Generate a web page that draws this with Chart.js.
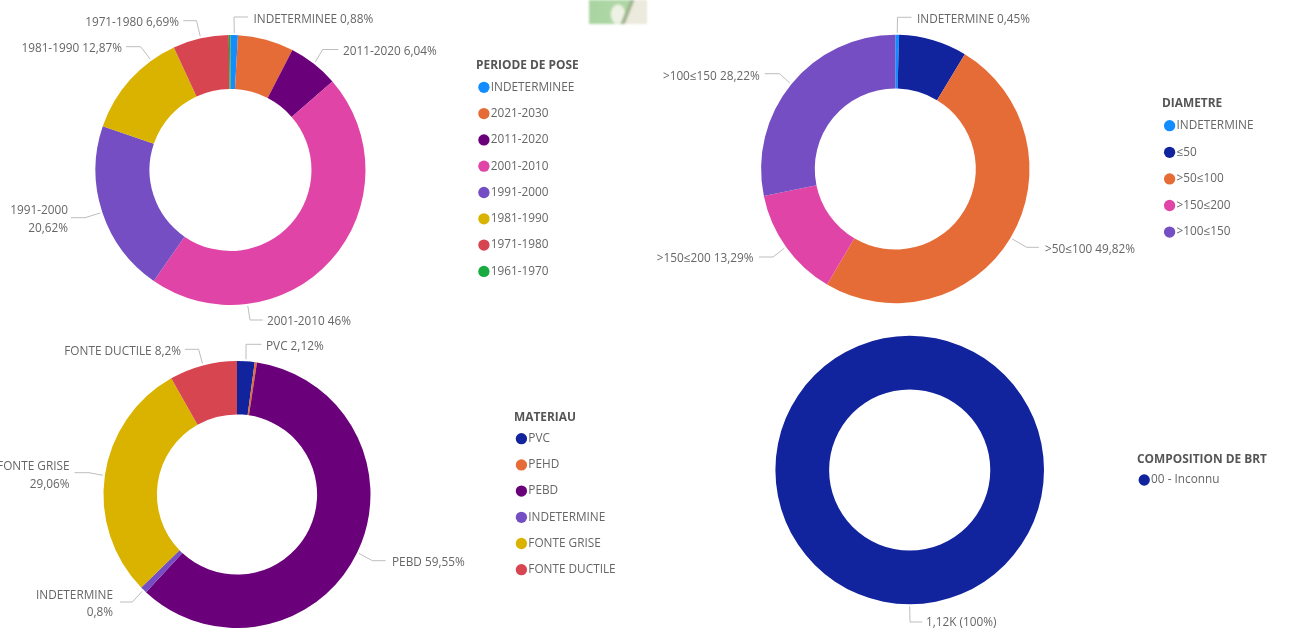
<!DOCTYPE html>
<html><head><meta charset="utf-8">
<script src="https://cdn.jsdelivr.net/npm/chart.js@4/dist/chart.umd.min.js"></script>
<style>
html,body{margin:0;padding:0;background:#fff;width:1296px;height:628px;overflow:hidden}
canvas{position:absolute;left:0;top:0;filter:blur(.45px)}
#map{position:absolute;left:589px;top:0;width:58px;height:24px;filter:blur(1px);
background:linear-gradient(112deg,transparent 0 60%,#9fb58f 62% 66%,#ece9dd 68% 100%),radial-gradient(ellipse 8px 11px at 50% 60%,#eef2e4 0 80%,transparent 100%),linear-gradient(100deg,#a9d5a2,#b3d9a8)}
</style></head><body>
<div id="map"></div>
<canvas id="c1" width="1296" height="628"></canvas>
<canvas id="c2" width="1296" height="628"></canvas>
<canvas id="c3" width="1296" height="628"></canvas>
<canvas id="c4" width="1296" height="628"></canvas>
<script>
// ---- data ----
const periodLabels = ['INDETERMINEE','2021-2030','2011-2020','2001-2010','1991-2000','1981-1990','1971-1980','1961-1970'];
const periodValues = [0.88,6.7,6.04,46,20.62,12.87,6.69,0.2];
const diameterLabels = ['INDETERMINE','≤50','>50≤100','>150≤200','>100≤150'];
const diameterValues = [0.45,8.22,49.82,13.29,28.22];
const materialLabels = ['PVC','PEHD','PEBD','INDETERMINE','FONTE GRISE','FONTE DUCTILE'];
const materialValues = [2.12,0.27,59.55,0.8,29.06,8.2];
const compositionLabels = ['00 - Inconnu'];
const compositionValues = [1120];

// ---- styling ----
const C = {blue:'#118DFF',navy:'#12239E',orange:'#E66C37',plum:'#6B007B',pink:'#E044A7',violet:'#744EC2',gold:'#D9B300',red:'#D64550',green:'#1AAB40'};
const FONT = '"Open Sans"', SIZE = 11.8;
const TXT = '#666666', LINE = '#bdbdbd';

const panels = [
 {id:'c1',labels:periodLabels,values:periodValues,
  colors:[C.blue,C.orange,C.plum,C.pink,C.violet,C.gold,C.red,C.green],
  cx:230.5,cy:170,r:135,title:'PERIODE DE POSE',titleX:476,titleY:65,legendX:468.4,rowY:87.3,rowGap:26.3,
  callouts:[
   {i:0,at:0.5,lines:['INDETERMINEE 0,88%'],x:253.5,y:19,align:'left',path:[[234,17],[248,17]]},
   {i:2,at:0.5,lines:['2011-2020 6,04%'],x:343,y:51,align:'left',path:[[322.7,49.5],[338.4,49.5]]},
   {i:3,at:0.747,lines:['2001-2010 46%'],x:267,y:321,align:'left',path:[[250,320],[262.7,320]]},
   {i:4,at:0.5,lines:['1991-2000','20,62%'],x:68,y:210,align:'right',path:[[85,217.7],[71,217.7]]},
   {i:5,at:0.76,lines:['1981-1990 12,87%'],x:122,y:48,align:'right',path:[[140.7,46.7],[126,46.7]]},
   {i:6,at:0.5,lines:['1971-1980 6,69%'],x:179,y:22,align:'right',path:[[196.5,20.7],[183.3,20.7]]}
  ]},
 {id:'c2',labels:diameterLabels,values:diameterValues,
  colors:[C.blue,C.navy,C.orange,C.pink,C.violet],
  cx:895.3,cy:169,r:134.2,title:'DIAMETRE',titleX:1162,titleY:103,legendX:1153.8,rowY:125.7,rowGap:26.6,
  callouts:[
   {i:0,at:0.5,lines:['INDETERMINE 0,45%'],x:917,y:19,align:'left',path:[[897.5,17.3],[911.5,17.3]]},
   {i:2,at:0.5,lines:['>50≤100 49,82%'],x:1045,y:249,align:'left',path:[[1026.6,247.3],[1039,247.3]]},
   {i:3,at:0.5,lines:['>150≤200 13,29%'],x:753.5,y:257.5,align:'right',path:[[773,257],[759,257]]},
   {i:4,at:0.5,lines:['>100≤150 28,22%'],x:759.7,y:75.5,align:'right',path:[[779.6,73.7],[764.7,73.7]]}
  ]},
 {id:'c3',labels:materialLabels,values:materialValues,
  colors:[C.navy,C.orange,C.plum,C.violet,C.gold,C.red],
  cx:237,cy:494.5,r:133.5,title:'MATERIAU',titleX:514,titleY:417,legendX:506,rowY:438.7,rowGap:26.2,
  callouts:[
   {i:0,at:0.5,lines:['PVC 2,12%'],x:266,y:346,align:'left',path:[[246,344.3],[261.5,344.3]]},
   {i:2,at:0.5,lines:['PEBD 59,55%'],x:392,y:561.5,align:'left',path:[[372.4,560.7],[385.6,560.7]]},
   {i:3,at:0.5,lines:['INDETERMINE','0,8%'],x:113,y:594.5,align:'right',path:[[132.4,602],[120,602]]},
   {i:4,at:0.5,lines:['FONTE GRISE','29,06%'],x:69.5,y:466,align:'right',path:[[89,472.7],[74.5,472.7]]},
   {i:5,at:0.5,lines:['FONTE DUCTILE 8,2%'],x:181,y:350.5,align:'right',path:[[198.6,349.3],[185,349.3]]}
  ]},
 {id:'c4',labels:compositionLabels,values:compositionValues,
  colors:[C.navy],
  cx:909.7,cy:470,r:134.3,title:'COMPOSITION DE BRT',titleX:1137,titleY:459,legendX:1129,rowY:480,rowGap:26,
  callouts:[
   {i:0,at:0.5,lines:['1,12K (100%)'],x:926,y:622,align:'left',path:[[910,622],[922.3,622]]}
  ]}
];
const panelOf = chart => panels.find(x => x.id === chart.canvas.id);

// Places the legend, then adds the legend heading and the leader lines with their labels.
const annotate = {
 id:'annotate',
 afterLayout(chart){
  const p = panelOf(chart), lg = chart.legend;
  const pad = p.rowGap - SIZE, w = lg.width, h = lg.height;
  lg.left = p.legendX; lg.right = p.legendX + w;
  lg.top = p.rowY - SIZE/2 - pad; lg.bottom = lg.top + h;
 },
 afterDraw(chart){
  const p = panelOf(chart), ctx = chart.ctx;
  const arcs = chart.getDatasetMeta(0).data;
  ctx.save();
  ctx.textBaseline = 'middle';
  ctx.fillStyle = '#555555'; ctx.textAlign = 'left';
  ctx.font = 'bold 11.9px ' + FONT;
  ctx.fillText(p.title, p.titleX, p.titleY + 1);
  ctx.font = SIZE + 'px ' + FONT;
  p.callouts.forEach(c=>{
   const a = arcs[c.i].getProps(['x','y','startAngle','endAngle','outerRadius'],true);
   const mid = a.startAngle + (a.endAngle - a.startAngle)*c.at, rr = a.outerRadius + 2;
   ctx.beginPath();
   ctx.moveTo(a.x + Math.cos(mid)*rr, a.y + Math.sin(mid)*rr);
   c.path.forEach(pt=>ctx.lineTo(pt[0],pt[1]));
   ctx.strokeStyle = LINE; ctx.lineWidth = 1; ctx.stroke();
   ctx.fillStyle = TXT; ctx.textAlign = c.align;
   c.lines.forEach((t,k)=>ctx.fillText(t,c.x,c.y + 1 + k*17.5));
  });
  ctx.restore();
 }
};

panels.forEach(p=>{
 new Chart(document.getElementById(p.id),{
  type:'doughnut',
  data:{labels:p.labels,datasets:[{data:p.values,backgroundColor:p.colors,borderWidth:0}]},
  plugins:[annotate],
  options:{
   responsive:false,animation:false,cutout:'60%',
   layout:{padding:{left:p.cx-p.r,top:p.cy-p.r,right:1296-p.cx-p.r,bottom:628-p.cy-p.r}},
   plugins:{
    tooltip:{enabled:false},
    legend:{position:'chartArea',align:'start',
     labels:{font:{family:FONT,size:SIZE},color:TXT,usePointStyle:true,pointStyle:'circle',boxWidth:2,boxHeight:8,padding:p.rowGap-SIZE}}
   }
  }
 });
});
</script></body></html>
